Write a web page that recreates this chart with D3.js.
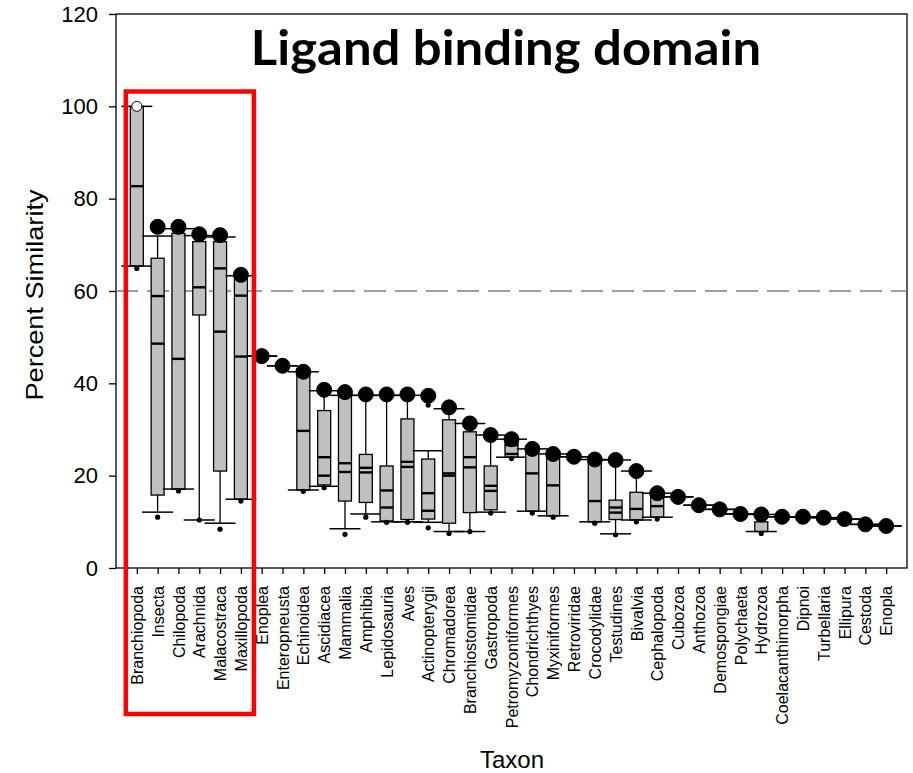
<!DOCTYPE html>
<html>
<head>
<meta charset="utf-8">
<script src="https://cdn.jsdelivr.net/npm/d3@7"></script>
<style>
	body { margin: 0; background: #fff; }
	svg { display: block; }
	.axis text { font-family: "Liberation Sans", Arial, sans-serif; fill: #000; }
	.axis path, .axis line { stroke: #000; stroke-width: 1.3; }
</style>
</head>
<body>
<div id="chart-area"></div>
<script>
// taxa, left to right
var taxa = ["Branchiopoda", "Insecta", "Chilopoda", "Arachnida", "Malacostraca", "Maxillopoda",
	"Enoplea", "Enteropneusta", "Echinoidea", "Ascidiacea", "Mammalia", "Amphibia", "Lepidosauria",
	"Aves", "Actinopterygii", "Chromadorea", "Branchiostomidae", "Gastropoda", "Petromyzontiformes",
	"Chondrichthyes", "Myxiniformes", "Retroviridae", "Crocodylidae", "Testudines", "Bivalvia",
	"Cephalopoda", "Cubozoa", "Anthozoa", "Demospongiae", "Polychaeta", "Hydrozoa",
	"Coelacanthimorpha", "Dipnoi", "Turbellaria", "Ellipura", "Cestoda", "Enopla"];

// big dot on top of each taxon (Branchiopoda is the hollow one)
var topPoint = [100, 73.9, 73.9, 72.3, 72.1, 63.5, 45.9, 43.8, 42.5, 38.6, 38.1, 37.6, 37.6,
	37.6, 37.3, 34.8, 31.3, 28.8, 27.9, 25.8, 24.7, 24.1, 23.5, 23.4, 21.0,
	16.2, 15.4, 13.6, 12.7, 11.7, 11.6, 11.1, 11.1, 10.9, 10.6, 9.45, 9.1];
var hollowTaxa = ["Branchiopoda"];

// box parts, null where the taxon has only one value
var q1 = [65.4, 15.8, 17.1, 54.8, 21.0, 14.9, null, null, 16.9, 18.0, 14.5, 14.2, 10.2,
	10.5, 10.6, 9.7, 12.0, 12.6, 24.0, 12.3, 11.3, null, 10.0, 10.5, 10.4,
	11.0, null, null, null, null, 7.9, null, null, null, null, null, null];
var q3 = [100, 67.1, 72.5, 70.7, 70.7, 62.5, null, null, 42.2, 34.1, 37.4, 24.6, 22.1,
	32.3, 23.6, 32.1, 29.5, 22.1, 27.4, 25.2, 24.1, null, 23.0, 14.7, 16.4,
	15.8, null, null, null, null, 10.0, null, null, null, null, null, null];
var median = [82.7, 48.6, 45.3, 60.8, 51.2, 45.8, null, null, 29.7, 24.0, 22.7, 21.7, 16.8,
	23.0, 16.2, 20.5, 24.0, 17.8, 26.6, 20.5, 17.9, null, 14.5, 13.1, 12.8,
	13.4, null, null, null, null, null, null, null, null, null, null, null];
var mean = [null, 58.9, null, null, 64.9, 59.0, null, null, null, 20.0, 20.8, 20.7, 13.1,
	21.9, 12.4, 20.0, 21.8, 16.7, 24.7, null, null, null, null, 12.0, null,
	null, null, null, null, null, null, null, null, null, null, null, null];
// whisker ends
var whiskerLo = [65.4, 12.1, 17.1, 10.4, 9.7, 14.9, 45.9, 43.8, 16.9, 17.7, 8.5, 11.7, 10.0,
	10.0, 9.9, 7.9, 7.9, 12.1, 24.0, 12.3, 11.3, 24.1, 10.0, 7.4, 10.4,
	11.0, 15.4, 13.6, 12.7, 11.7, 7.9, 11.1, 11.1, 10.9, 10.6, 9.45, 9.1];
var whiskerHi = [100, 71.9, 73.5, 72.0, 71.7, 63.3, 45.9, 43.8, 42.5, 38.4, 37.4, 37.4, 37.4,
	37.4, 25.4, 34.5, 31.3, 28.8, 27.9, 25.8, 24.7, 24.1, 23.5, 23.4, 21.0,
	16.2, 15.4, 13.6, 12.7, 11.7, 11.6, 11.1, 11.1, 10.9, 10.6, 9.45, 9.1];
// small outlier dots
var lowOutlier = [64.9, 11.0, 16.7, 10.4, 8.4, 14.5, null, null, 16.6, 17.4, 7.3, 11.0, 9.9,
	9.9, 8.7, 7.5, 7.9, 11.9, 23.7, 11.9, 11.0, null, 9.7, 7.2, 10.0,
	10.6, null, null, null, null, 7.5, null, null, null, null, null, null];
var highOutlier = [null, null, null, null, null, null, null, null, null, null, null, null, null,
	null, 35.3, null, null, null, null, null, null, null, null, null, null,
	null, null, null, null, null, null, null, null, null, null, null, null];

var yTicks = [0, 20, 40, 60, 80, 100, 120];
var cutoff = 60;
var highlighted = ["Branchiopoda", "Insecta", "Chilopoda", "Arachnida", "Malacostraca", "Maxillopoda"];

var svgW = 913, svgH = 773;
var margin = { left: 116, top: 14, right: 6, bottom: 205 };
var width = svgW - margin.left - margin.right;
var height = svgH - margin.top - margin.bottom;

var svg = d3.select("#chart-area")
	.append("svg")
	.attr("width", svgW)
	.attr("height", svgH);
var g = svg.append("g")
	.attr("transform", "translate(" + margin.left + ", " + margin.top + ")");

// SCALES
var x = d3.scaleLinear()
	.domain([0, taxa.length + 1])
	.range([0, width]);
var y = d3.scaleLinear()
	.domain([0, 120])
	.range([height, 0]);

var boxHalf = 6.5, capHalf = 15.5;

// frame
g.append("rect")
	.attr("width", width)
	.attr("height", height)
	.attr("fill", "none")
	.attr("stroke", "#000")
	.attr("stroke-width", 1.3);

// 60% line
g.append("line")
	.attr("x1", 0)
	.attr("x2", width)
	.attr("y1", y(cutoff))
	.attr("y2", y(cutoff))
	.attr("stroke", "#7f7f7f")
	.attr("stroke-width", 1.5)
	.attr("stroke-dasharray", "22,9");

// Axes
var xAxisCall = d3.axisBottom(x)
	.tickValues(d3.range(1, taxa.length + 1))
	.tickFormat(d => taxa[d - 1])
	.tickSize(6)
	.tickSizeOuter(0);
g.append("g")
	.attr("class", "axis x-axis")
	.attr("transform", "translate(0, " + height + ")")
	.call(xAxisCall)
	.call(a => a.select(".domain").remove())
	.selectAll("text")
	.attr("font-size", "16px")
	.attr("text-anchor", "end")
	.attr("transform", "rotate(-90)")
	.attr("x", -18)
	.attr("y", 0)
	.attr("dy", "0.35em");

var yAxisCall = d3.axisLeft(y)
	.tickValues(yTicks)
	.tickSize(7)
	.tickSizeOuter(0)
	.tickPadding(11);
g.append("g")
	.attr("class", "axis y-axis")
	.call(yAxisCall)
	.call(a => a.select(".domain").remove())
	.selectAll("text")
	.attr("font-size", "22px");

// boxes
taxa.forEach((name, i) => {
	var cx = x(i + 1);
	var grp = g.append("g").attr("class", "taxon");

	// whisker line
	grp.append("line")
		.attr("x1", cx).attr("x2", cx)
		.attr("y1", y(whiskerLo[i])).attr("y2", y(whiskerHi[i]))
		.attr("stroke", "#000").attr("stroke-width", 1.3);

	if (q1[i] !== null) {
		grp.append("rect")
			.attr("x", cx - boxHalf)
			.attr("y", y(q3[i]))
			.attr("width", boxHalf * 2)
			.attr("height", y(q1[i]) - y(q3[i]))
			.attr("fill", "#c0c0c0")
			.attr("stroke", "#000")
			.attr("stroke-width", 1.3);
	}
	[median[i], mean[i]].forEach(v => {
		if (v === null) return;
		grp.append("line")
			.attr("x1", cx - boxHalf).attr("x2", cx + boxHalf)
			.attr("y1", y(v)).attr("y2", y(v))
			.attr("stroke", "#000").attr("stroke-width", 2.4);
	});

	// caps
	[whiskerLo[i], whiskerHi[i]].forEach(v => {
		grp.append("line")
			.attr("x1", cx - capHalf).attr("x2", cx + capHalf)
			.attr("y1", y(v)).attr("y2", y(v))
			.attr("stroke", "#000").attr("stroke-width", 1.5);
	});

	[lowOutlier[i], highOutlier[i]].forEach(v => {
		if (v === null) return;
		grp.append("circle")
			.attr("cx", cx).attr("cy", y(v))
			.attr("r", 2.6)
			.attr("fill", "#000");
	});

	var hollow = hollowTaxa.indexOf(name) >= 0;
	grp.append("circle")
		.attr("cx", cx).attr("cy", y(topPoint[i]))
		.attr("r", hollow ? 5 : 7.5)
		.attr("fill", hollow ? "#fff" : "#000")
		.attr("stroke", "#000")
		.attr("stroke-width", 1);
});

// red highlight box
var first = taxa.indexOf(highlighted[0]) + 1;
var last = taxa.indexOf(highlighted[highlighted.length - 1]) + 1;
g.append("rect")
	.attr("x", x(first) - 11)
	.attr("y", 77.5)
	.attr("width", x(last) - x(first) + 24)
	.attr("height", 622.5)
	.attr("fill", "none")
	.attr("stroke", "#ff0000")
	.attr("stroke-width", 4.5);

// LABELS
svg.append("text")
	.attr("transform", "translate(506, 65) scale(1.06, 1)")
	.attr("text-anchor", "middle")
	.attr("font-family", "Lato, 'Open Sans', sans-serif")
	.attr("font-weight", "bold")
	.attr("font-size", "48px")
	.text("Ligand binding domain");

svg.append("text")
	.attr("transform", "translate(43, 295) rotate(-90) scale(1.18, 1)")
	.attr("text-anchor", "middle")
	.attr("font-family", "'Liberation Sans', Arial, sans-serif")
	.attr("font-size", "23px")
	.text("Percent Similarity");

svg.append("text")
	.attr("x", 512)
	.attr("y", 768)
	.attr("text-anchor", "middle")
	.attr("font-family", "'Liberation Sans', Arial, sans-serif")
	.attr("font-size", "24px")
	.text("Taxon");
</script>
</body>
</html>
